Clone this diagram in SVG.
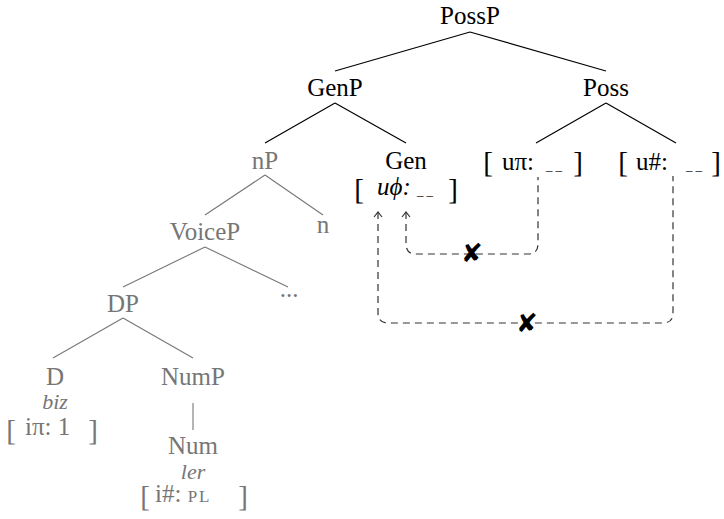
<svg xmlns="http://www.w3.org/2000/svg" width="724" height="519" viewBox="0 0 724 519">
<style>
text{font-size:25px;text-anchor:middle;fill:#000}
.g{fill:#767676}
.it{font-style:italic;font-size:22px}
.st{text-anchor:start}
.br{font-size:29px;text-anchor:middle}
.us{font-size:13px;letter-spacing:3px;text-anchor:start}
.sc{font-size:17px;letter-spacing:2px}
.bl{stroke:#000;stroke-width:1.2;fill:none}
.gl{stroke:#777;stroke-width:1.1;fill:none}
.dash{stroke:#333;stroke-width:1.2;fill:none;stroke-dasharray:7 5}
.x{font-size:26px;fill:#000}
</style>
<defs>
<marker id="arr" viewBox="0 0 10 10" refX="5" refY="1" markerWidth="10" markerHeight="10" markerUnits="userSpaceOnUse" orient="0">
<path d="M1,6 L5,1 L9,6" fill="none" stroke="#333" stroke-width="1.2"/>
</marker>
</defs>
<g id="connectors">
<path class="bl" d="M470,32 L335,71 M470,32 L606,71"/>
<path class="bl" d="M335,103 L265,143 M335,103 L406,143"/>
<path class="bl" d="M606,103 L536,143 M606,103 L676,143"/>
<path class="gl" d="M265,175 L205,215 M265,175 L323,215"/>
<path class="gl" d="M205,247 L123,287 M205,247 L288,287"/>
<path class="gl" d="M123,318 L53,358 M123,318 L193,358"/>
<path class="gl" d="M193,403 L193,430"/>
<path class="dash" marker-start="url(#arr)" d="M378,212 V313 Q378,323 388,323 H663 Q673,323 673,313 V176"/>
<path class="dash" marker-start="url(#arr)" d="M406,212 V244 Q406,254 416,254 H528 Q538,254 538,244 V177"/>
<text class="x" x="472" y="262" font-family="DejaVu Sans, sans-serif">✘</text>
<text class="x" x="527" y="332" font-family="DejaVu Sans, sans-serif">✘</text>
</g>
<g font-family="Liberation Serif, DejaVu Serif, serif">
<g id="PossP"><text x="470" y="24">PossP</text></g>
<g id="GenP"><text x="335" y="96">GenP</text></g>
<g id="Poss">
<text x="606" y="96">Poss</text>
<text class="br" x="488" y="172">[</text><text class="st" x="502" y="170">uπ:</text><text class="us" x="546" y="170">__</text><text class="br" x="578" y="172">]</text>
<text class="br" x="623" y="172">[</text><text class="st" x="636" y="170">u#:</text><text class="us" x="686" y="170">__</text><text class="br" x="716" y="172">]</text>
</g>
<g id="Gen">
<text x="406" y="169">Gen</text>
<text class="br" x="359" y="199">[</text><text class="st" x="377" y="195" font-style="italic">uϕ:</text><text class="us" x="417" y="195">__</text><text class="br" x="453" y="199">]</text>
</g>
<g id="nP"><text class="g" x="265" y="169">nP</text></g>
<g id="n"><text class="g" x="323" y="233">n</text></g>
<g id="VoiceP"><text class="g" x="205" y="240">VoiceP</text></g>
<g id="DP"><text class="g" x="123" y="312">DP</text></g>
<g id="dots"><text class="g" x="289" y="297">...</text></g>
<g id="D">
<text class="g" x="55" y="385">D</text>
<text class="g it" x="55" y="409">biz</text>
<text class="br g" x="11" y="440">[</text><text class="st g" x="25" y="435">iπ: 1</text><text class="br g" x="93" y="440">]</text>
</g>
<g id="NumP"><text class="g" x="193" y="385">NumP</text></g>
<g id="Num">
<text class="g" x="193" y="454">Num</text>
<text class="g it" x="193" y="479">ler</text>
<text class="br g" x="145" y="506">[</text><text class="st g" x="155" y="502">i#: <tspan class="sc">PL</tspan></text><text class="br g" x="243" y="506">]</text>
</g>
</g>
</svg>
